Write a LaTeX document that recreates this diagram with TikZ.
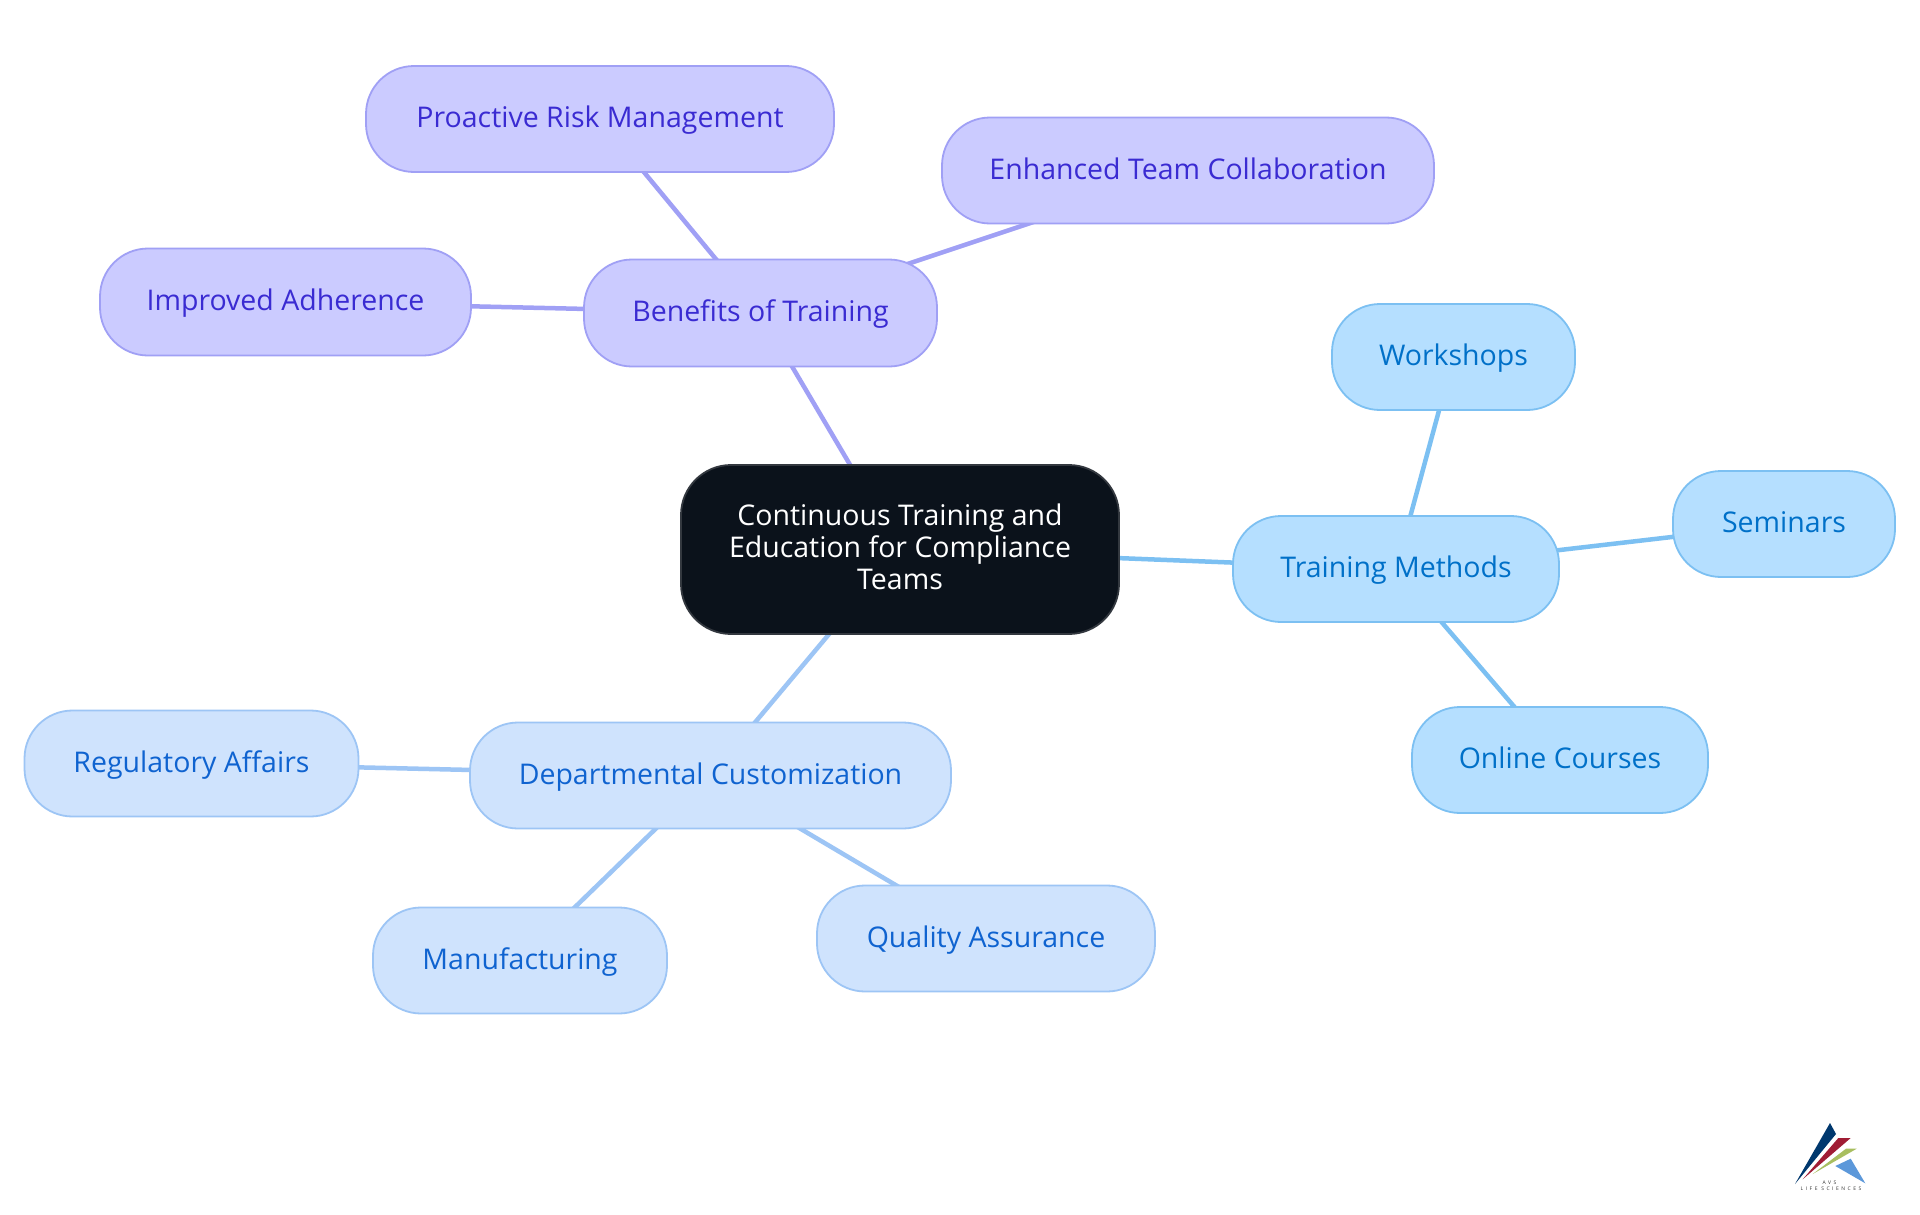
\documentclass[tikz,border=0pt]{standalone}
\usepackage{fontspec}
\setmainfont{Open Sans}
\usetikzlibrary{backgrounds}
\definecolor{purF}{HTML}{CBCBFF}\definecolor{purD}{HTML}{A0A0F5}\definecolor{purT}{HTML}{3A2BD2}
\definecolor{skyF}{HTML}{B5DFFF}\definecolor{skyD}{HTML}{7CC0F2}\definecolor{skyT}{HTML}{0070C8}
\definecolor{bluF}{HTML}{CFE3FD}\definecolor{bluD}{HTML}{9DC5F5}\definecolor{bluT}{HTML}{0F63D0}
\definecolor{rootF}{HTML}{0B121B}\definecolor{rootD}{HTML}{33383F}
\tikzset{
 base/.style={rounded corners=48pt,line width=1.8pt,inner sep=0pt,align=center,font=\fontsize{28.5}{32}\selectfont,text height=21.6pt,text depth=4.4pt},
 pur/.style={base,draw=purD,fill=purF,text=purT},
 sky/.style={base,draw=skyD,fill=skyF,text=skyT},
 blu/.style={base,draw=bluD,fill=bluF,text=bluT},
 rootn/.style={rounded corners=50pt,line width=1.8pt,inner sep=0pt,align=center,draw=rootD,fill=rootF,text=white,font=\fontsize{28.5}{32}\selectfont},
 edgep/.style={line width=4.5pt,draw=purD},
 edges/.style={line width=4.5pt,draw=skyD},
 edgeb/.style={line width=4.5pt,draw=bluD},
 box/.style n args={2}{minimum width=#1pt,minimum height=#2pt},
 logotext/.style={inner sep=0pt,text=black!80,font=\fontsize{5}{6}\selectfont\addfontfeature{LetterSpace=50}},
}
\begin{document}
\begin{tikzpicture}[x=1pt,y=-1pt]
\useasboundingbox (0,0) rectangle (1920,1215);
\node[rootn,box={438}{169}] (root) at (900,549.5) {Continuous Training and\\Education for Compliance\\Teams\rule[-5pt]{0pt}{5pt}};
\node[pur,box={353}{107}] (ben) at (760.5,313) {Benefits of Training};
\node[pur,box={468}{106}] (pro) at (600,119) {Proactive Risk Management};
\node[pur,box={492}{106}] (enh) at (1188,170.5) {Enhanced Team Collaboration};
\node[pur,box={371}{107}] (imp) at (285.5,302) {Improved Adherence};
\node[sky,box={326}{106}] (tra) at (1396,569) {Training Methods};
\node[sky,box={243}{106}] (wor) at (1453.5,357) {Workshops};
\node[sky,box={222}{106}] (sem) at (1784,524) {Seminars};
\node[sky,box={296}{106}] (onl) at (1560,760) {Online Courses};
\node[blu,box={481}{106}] (dep) at (710.5,775.5) {Departmental Customization};
\node[blu,box={334}{106}] (reg) at (191.5,763.5) {Regulatory Affairs};
\node[blu,box={294}{106}] (man) at (520,960.5) {Manufacturing};
\node[blu,box={338}{106}] (qua) at (986,938.5) {Quality Assurance};
\begin{scope}[on background layer]
\fill[white] (0,0) rectangle (1920,1215);
\draw[edgep] (root.center) -- (ben.center);
\draw[edgep] (ben.center) -- (pro.center);
\draw[edgep] (ben.center) -- (enh.center);
\draw[edgep] (ben.center) -- (imp.center);
\draw[edges] (root.center) -- (tra.center);
\draw[edges] (tra.center) -- (wor.center);
\draw[edges] (tra.center) -- (sem.center);
\draw[edges] (tra.center) -- (onl.center);
\draw[edgeb] (root.center) -- (dep.center);
\draw[edgeb] (dep.center) -- (reg.center);
\draw[edgeb] (dep.center) -- (man.center);
\draw[edgeb] (dep.center) -- (qua.center);
\end{scope}
% logo
\fill[fill={rgb,255:red,0;green,56;blue,110}] (1830,1123) -- (1836,1134) -- (1795,1184) -- cycle;
\fill[fill={rgb,255:red,160;green,28;blue,52}] (1838.3,1138) -- (1850.7,1138) -- (1802.7,1179.3) -- cycle;
\fill[fill={rgb,255:red,168;green,190;blue,96}] (1846,1148.7) -- (1856.7,1148.7) -- (1812.7,1174) -- cycle;
\fill[fill={rgb,255:red,92;green,152;blue,218}] (1850.7,1158.7) -- (1835.3,1166) -- (1865.3,1183.3) -- cycle;
\node[logotext] (avs) at (1829.5,1182.5) {AVS};
\node[logotext] (life) at (1831,1189) {LIFE SCIENCES};
\end{tikzpicture}
\end{document}
